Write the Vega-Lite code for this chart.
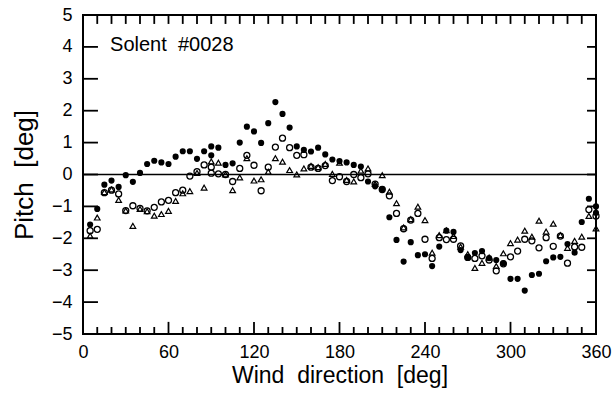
{
  "$schema": "https://vega.github.io/schema/vega-lite/v6.json",
  "width": 513,
  "height": 319,
  "autosize": {"type": "none"},
  "padding": {"left": 83, "top": 15, "right": 18, "bottom": 59},
  "background": "white",
  "config": {
    "view": {"stroke": "black", "strokeWidth": 2},
    "font": "Liberation Sans",
    "scale": {"continuousPadding": 0, "barBandPaddingInner": 0},
    "axis": {"grid": false, "domain": false, "ticks": false, "labelColor": "black", "titleColor": "black", "labelFont": "Liberation Sans", "titleFont": "Liberation Sans", "titleFontWeight": "normal", "labelOverlap": false, "labelFlush": false}
  },
  "datasets": {
    "xt": [{"v":0},{"v":10},{"v":20},{"v":30},{"v":40},{"v":50},{"v":60},{"v":70},{"v":80},{"v":90},{"v":100},{"v":110},{"v":120},{"v":130},{"v":140},{"v":150},{"v":160},{"v":170},{"v":180},{"v":190},{"v":200},{"v":210},{"v":220},{"v":230},{"v":240},{"v":250},{"v":260},{"v":270},{"v":280},{"v":290},{"v":300},{"v":310},{"v":320},{"v":330},{"v":340},{"v":350},{"v":360}],
    "yt": [{"v":-4},{"v":-3},{"v":-2},{"v":-1},{"v":0},{"v":1},{"v":2},{"v":3},{"v":4}],
    "pts": [
      {"d":5,"p":-1.57,"s":"filled"},{"d":10,"p":-1.08,"s":"filled"},{"d":15,"p":-0.32,"s":"filled"},{"d":20,"p":-0.19,"s":"filled"},{"d":25,"p":-0.39,"s":"filled"},{"d":30,"p":-0.02,"s":"filled"},{"d":35,"p":-0.23,"s":"filled"},{"d":40,"p":0.05,"s":"filled"},{"d":45,"p":0.33,"s":"filled"},{"d":50,"p":0.43,"s":"filled"},{"d":55,"p":0.38,"s":"filled"},{"d":60,"p":0.33,"s":"filled"},{"d":65,"p":0.56,"s":"filled"},{"d":70,"p":0.73,"s":"filled"},{"d":75,"p":0.73,"s":"filled"},{"d":80,"p":0.49,"s":"filled"},{"d":85,"p":0.73,"s":"filled"},{"d":90,"p":0.88,"s":"filled"},{"d":90,"p":0.6,"s":"filled"},{"d":95,"p":0.84,"s":"filled"},{"d":100,"p":0.3,"s":"filled"},{"d":105,"p":0.35,"s":"filled"},{"d":110,"p":1.0,"s":"filled"},{"d":115,"p":1.5,"s":"filled"},{"d":120,"p":1.35,"s":"filled"},{"d":125,"p":0.99,"s":"filled"},{"d":130,"p":1.61,"s":"filled"},{"d":135,"p":2.27,"s":"filled"},{"d":140,"p":1.9,"s":"filled"},{"d":145,"p":1.47,"s":"filled"},{"d":150,"p":0.88,"s":"filled"},{"d":155,"p":0.77,"s":"filled"},{"d":160,"p":0.72,"s":"filled"},{"d":165,"p":0.84,"s":"filled"},{"d":170,"p":0.63,"s":"filled"},{"d":175,"p":0.47,"s":"filled"},{"d":180,"p":0.42,"s":"filled"},{"d":185,"p":0.38,"s":"filled"},{"d":190,"p":0.3,"s":"filled"},{"d":195,"p":0.25,"s":"filled"},{"d":200,"p":-0.22,"s":"filled"},{"d":205,"p":-0.37,"s":"filled"},{"d":210,"p":-0.46,"s":"filled"},{"d":215,"p":-1.34,"s":"filled"},{"d":220,"p":-2.05,"s":"filled"},{"d":225,"p":-2.73,"s":"filled"},{"d":230,"p":-2.12,"s":"filled"},{"d":235,"p":-2.53,"s":"filled"},{"d":240,"p":-2.5,"s":"filled"},{"d":245,"p":-2.87,"s":"filled"},{"d":250,"p":-2.26,"s":"filled"},{"d":255,"p":-1.76,"s":"filled"},{"d":260,"p":-1.8,"s":"filled"},{"d":265,"p":-2.37,"s":"filled"},{"d":270,"p":-2.6,"s":"filled"},{"d":275,"p":-2.46,"s":"filled"},{"d":280,"p":-2.4,"s":"filled"},{"d":285,"p":-2.62,"s":"filled"},{"d":290,"p":-2.68,"s":"filled"},{"d":295,"p":-2.78,"s":"filled"},{"d":300,"p":-3.27,"s":"filled"},{"d":305,"p":-3.27,"s":"filled"},{"d":310,"p":-3.64,"s":"filled"},{"d":315,"p":-3.15,"s":"filled"},{"d":320,"p":-3.11,"s":"filled"},{"d":325,"p":-2.72,"s":"filled"},{"d":330,"p":-2.6,"s":"filled"},{"d":335,"p":-2.58,"s":"filled"},{"d":340,"p":-2.18,"s":"filled"},{"d":345,"p":-2.45,"s":"filled"},{"d":350,"p":-1.49,"s":"filled"},{"d":355,"p":-0.76,"s":"filled"},{"d":360,"p":-1.0,"s":"filled"},{"d":360,"p":-1.2,"s":"filled"},
      {"d":5,"p":-1.76,"s":"open"},{"d":10,"p":-1.72,"s":"open"},{"d":15,"p":-0.57,"s":"open"},{"d":20,"p":-0.49,"s":"open"},{"d":25,"p":-0.61,"s":"open"},{"d":30,"p":-1.13,"s":"open"},{"d":35,"p":-0.98,"s":"open"},{"d":40,"p":-1.06,"s":"open"},{"d":45,"p":-1.14,"s":"open"},{"d":50,"p":-1.03,"s":"open"},{"d":55,"p":-0.86,"s":"open"},{"d":60,"p":-0.81,"s":"open"},{"d":65,"p":-0.57,"s":"open"},{"d":70,"p":-0.49,"s":"open"},{"d":75,"p":-0.05,"s":"open"},{"d":80,"p":0.09,"s":"open"},{"d":85,"p":0.3,"s":"open"},{"d":90,"p":0.23,"s":"open"},{"d":90,"p":0.04,"s":"open"},{"d":95,"p":0.02,"s":"open"},{"d":100,"p":0.0,"s":"open"},{"d":105,"p":-0.22,"s":"open"},{"d":110,"p":0.19,"s":"open"},{"d":115,"p":0.6,"s":"open"},{"d":120,"p":0.29,"s":"open"},{"d":125,"p":-0.51,"s":"open"},{"d":130,"p":0.23,"s":"open"},{"d":135,"p":0.86,"s":"open"},{"d":140,"p":1.14,"s":"open"},{"d":145,"p":0.84,"s":"open"},{"d":150,"p":0.6,"s":"open"},{"d":155,"p":0.62,"s":"open"},{"d":160,"p":0.23,"s":"open"},{"d":165,"p":0.19,"s":"open"},{"d":170,"p":0.28,"s":"open"},{"d":175,"p":-0.19,"s":"open"},{"d":180,"p":-0.07,"s":"open"},{"d":185,"p":-0.22,"s":"open"},{"d":190,"p":0.0,"s":"open"},{"d":195,"p":-0.1,"s":"open"},{"d":200,"p":0.02,"s":"open"},{"d":205,"p":-0.3,"s":"open"},{"d":210,"p":-0.47,"s":"open"},{"d":215,"p":-0.67,"s":"open"},{"d":220,"p":-1.22,"s":"open"},{"d":225,"p":-1.7,"s":"open"},{"d":230,"p":-1.43,"s":"open"},{"d":235,"p":-1.22,"s":"open"},{"d":240,"p":-2.03,"s":"open"},{"d":245,"p":-2.63,"s":"open"},{"d":250,"p":-1.98,"s":"open"},{"d":255,"p":-2.04,"s":"open"},{"d":260,"p":-2.03,"s":"open"},{"d":265,"p":-2.24,"s":"open"},{"d":270,"p":-2.6,"s":"open"},{"d":275,"p":-2.63,"s":"open"},{"d":280,"p":-2.55,"s":"open"},{"d":285,"p":-2.68,"s":"open"},{"d":290,"p":-3.02,"s":"open"},{"d":295,"p":-2.8,"s":"open"},{"d":300,"p":-2.58,"s":"open"},{"d":305,"p":-2.4,"s":"open"},{"d":310,"p":-2.03,"s":"open"},{"d":315,"p":-2.08,"s":"open"},{"d":320,"p":-2.3,"s":"open"},{"d":325,"p":-1.98,"s":"open"},{"d":330,"p":-2.25,"s":"open"},{"d":335,"p":-1.93,"s":"open"},{"d":340,"p":-2.78,"s":"open"},{"d":345,"p":-2.27,"s":"open"},{"d":350,"p":-2.28,"s":"open"},{"d":355,"p":-1.1,"s":"open"},{"d":360,"p":-1.3,"s":"open"},
      {"d":5,"p":-1.92,"s":"tri"},{"d":10,"p":-1.35,"s":"tri"},{"d":15,"p":-0.55,"s":"tri"},{"d":20,"p":-0.47,"s":"tri"},{"d":25,"p":-0.8,"s":"tri"},{"d":30,"p":-1.13,"s":"tri"},{"d":35,"p":-1.61,"s":"tri"},{"d":40,"p":-1.08,"s":"tri"},{"d":45,"p":-1.15,"s":"tri"},{"d":50,"p":-1.29,"s":"tri"},{"d":55,"p":-1.24,"s":"tri"},{"d":60,"p":-1.14,"s":"tri"},{"d":65,"p":-0.83,"s":"tri"},{"d":70,"p":-0.59,"s":"tri"},{"d":75,"p":-0.52,"s":"tri"},{"d":80,"p":0.05,"s":"tri"},{"d":85,"p":-0.41,"s":"tri"},{"d":90,"p":0.41,"s":"tri"},{"d":95,"p":0.37,"s":"tri"},{"d":100,"p":0.0,"s":"tri"},{"d":105,"p":-0.49,"s":"tri"},{"d":110,"p":-0.09,"s":"tri"},{"d":115,"p":0.51,"s":"tri"},{"d":120,"p":-0.19,"s":"tri"},{"d":125,"p":-0.15,"s":"tri"},{"d":130,"p":0.09,"s":"tri"},{"d":135,"p":0.51,"s":"tri"},{"d":140,"p":0.4,"s":"tri"},{"d":145,"p":0.14,"s":"tri"},{"d":150,"p":0.0,"s":"tri"},{"d":155,"p":0.19,"s":"tri"},{"d":160,"p":0.27,"s":"tri"},{"d":165,"p":0.23,"s":"tri"},{"d":170,"p":0.33,"s":"tri"},{"d":175,"p":0.02,"s":"tri"},{"d":180,"p":0.37,"s":"tri"},{"d":185,"p":-0.17,"s":"tri"},{"d":190,"p":-0.22,"s":"tri"},{"d":195,"p":0.12,"s":"tri"},{"d":200,"p":0.19,"s":"tri"},{"d":205,"p":-0.3,"s":"tri"},{"d":210,"p":-0.02,"s":"tri"},{"d":215,"p":-0.54,"s":"tri"},{"d":220,"p":-0.9,"s":"tri"},{"d":225,"p":-1.66,"s":"tri"},{"d":230,"p":-1.4,"s":"tri"},{"d":235,"p":-1.01,"s":"tri"},{"d":240,"p":-1.43,"s":"tri"},{"d":245,"p":-2.45,"s":"tri"},{"d":250,"p":-1.9,"s":"tri"},{"d":255,"p":-1.75,"s":"tri"},{"d":260,"p":-1.93,"s":"tri"},{"d":265,"p":-2.26,"s":"tri"},{"d":270,"p":-2.5,"s":"tri"},{"d":275,"p":-2.93,"s":"tri"},{"d":280,"p":-2.77,"s":"tri"},{"d":285,"p":-2.6,"s":"tri"},{"d":290,"p":-2.87,"s":"tri"},{"d":295,"p":-2.47,"s":"tri"},{"d":300,"p":-2.15,"s":"tri"},{"d":305,"p":-2.04,"s":"tri"},{"d":310,"p":-1.76,"s":"tri"},{"d":315,"p":-1.95,"s":"tri"},{"d":320,"p":-1.45,"s":"tri"},{"d":325,"p":-1.79,"s":"tri"},{"d":330,"p":-1.54,"s":"tri"},{"d":335,"p":-1.9,"s":"tri"},{"d":340,"p":-2.3,"s":"tri"},{"d":345,"p":-2.08,"s":"tri"},{"d":350,"p":-1.95,"s":"tri"},{"d":355,"p":-1.3,"s":"tri"},{"d":360,"p":-1.69,"s":"tri"}
    ],
    "label": [{"d": 19, "p": 4.05, "t": "Solent\u00a0\u00a0#0028"}]
  },
  "layer": [
    {
      "data": {"values": [{"p": 0}]},
      "mark": {"type": "rule", "color": "black", "strokeWidth": 1.6},
      "encoding": {"y": {"field": "p", "type": "quantitative", "scale": {"domain": [-5, 5], "nice": false, "padding": 0, "zero": false}, "axis": null}}
    },
    {
      "data": {"name": "xt"},
      "transform": [{"filter": "datum.v % 60 !== 0"}],
      "mark": {"type": "bar", "color": "black", "width": 1.8},
      "encoding": {"x": {"field": "v", "type": "quantitative", "scale": {"domain": [0, 360], "nice": false, "padding": 0}, "axis": null}, "y": {"datum": -5, "type": "quantitative", "axis": null}, "y2": {"datum": -4.78}}
    },
    {
      "data": {"name": "xt"},
      "transform": [{"filter": "datum.v % 60 === 0"}],
      "mark": {"type": "bar", "color": "black", "width": 1.8},
      "encoding": {"x": {"field": "v", "type": "quantitative", "axis": null}, "y": {"datum": -5, "type": "quantitative", "axis": null}, "y2": {"datum": -4.62}}
    },
    {
      "data": {"name": "xt"},
      "mark": {"type": "bar", "color": "black", "width": 1.8},
      "encoding": {"x": {"field": "v", "type": "quantitative", "axis": null}, "y": {"datum": 5, "type": "quantitative", "axis": null}, "y2": {"datum": 4.72}}
    },
    {
      "data": {"name": "yt"},
      "mark": {"type": "bar", "color": "black", "height": 1.8},
      "encoding": {"y": {"field": "v", "type": "quantitative", "axis": null}, "x": {"datum": 0, "type": "quantitative", "axis": null}, "x2": {"datum": 10.5}}
    },
    {
      "data": {"name": "yt"},
      "mark": {"type": "bar", "color": "black", "height": 1.8},
      "encoding": {"y": {"field": "v", "type": "quantitative", "axis": null}, "x": {"datum": 353.7, "type": "quantitative", "axis": null}, "x2": {"datum": 360}}
    },
    {
      "data": {"name": "pts"},
      "transform": [{"filter": "datum.s === 'filled'"}],
      "mark": {"type": "point", "shape": "circle", "filled": true, "color": "black", "size": 38, "opacity": 1},
      "encoding": {
        "x": {"field": "d", "type": "quantitative", "scale": {"domain": [0, 360], "nice": false, "padding": 0},
          "axis": {"orient": "bottom", "values": [0,60,120,180,240,300,360],
            "labelFontSize": 18, "labelPadding": 9, "title": "Wind\u00a0\u00a0direction\u00a0\u00a0[deg]", "titleFontSize": 23, "titlePadding": 3}},
        "y": {"field": "p", "type": "quantitative", "scale": {"domain": [-5, 5], "nice": false, "padding": 0},
          "axis": {"orient": "left", "values": [-5,-4,-3,-2,-1,0,1,2,3,4,5], "labelFontSize": 18, "labelPadding": 11, "title": "Pitch\u00a0\u00a0[deg]", "titleFontSize": 26, "titlePadding": 14}}
      }
    },
    {
      "data": {"name": "pts"},
      "transform": [{"filter": "datum.s === 'open'"}],
      "mark": {"type": "point", "shape": "circle", "filled": false, "color": "black", "size": 36, "strokeWidth": 1.3, "opacity": 1},
      "encoding": {
        "x": {"field": "d", "type": "quantitative", "axis": null},
        "y": {"field": "p", "type": "quantitative", "axis": null}
      }
    },
    {
      "data": {"name": "pts"},
      "transform": [{"filter": "datum.s === 'tri'"}],
      "mark": {"type": "point", "shape": "triangle-up", "filled": false, "color": "black", "size": 32, "strokeWidth": 1.2, "opacity": 1},
      "encoding": {
        "x": {"field": "d", "type": "quantitative", "axis": null},
        "y": {"field": "p", "type": "quantitative", "axis": null}
      }
    },
    {
      "data": {"name": "label"},
      "mark": {"type": "text", "align": "left", "baseline": "middle", "fontSize": 20, "font": "Liberation Sans", "color": "black"},
      "encoding": {
        "x": {"field": "d", "type": "quantitative", "axis": null},
        "y": {"field": "p", "type": "quantitative", "axis": null},
        "text": {"field": "t", "type": "nominal"}
      }
    }
  ],
  "resolve": {"axis": {"x": "independent", "y": "independent"}}
}
